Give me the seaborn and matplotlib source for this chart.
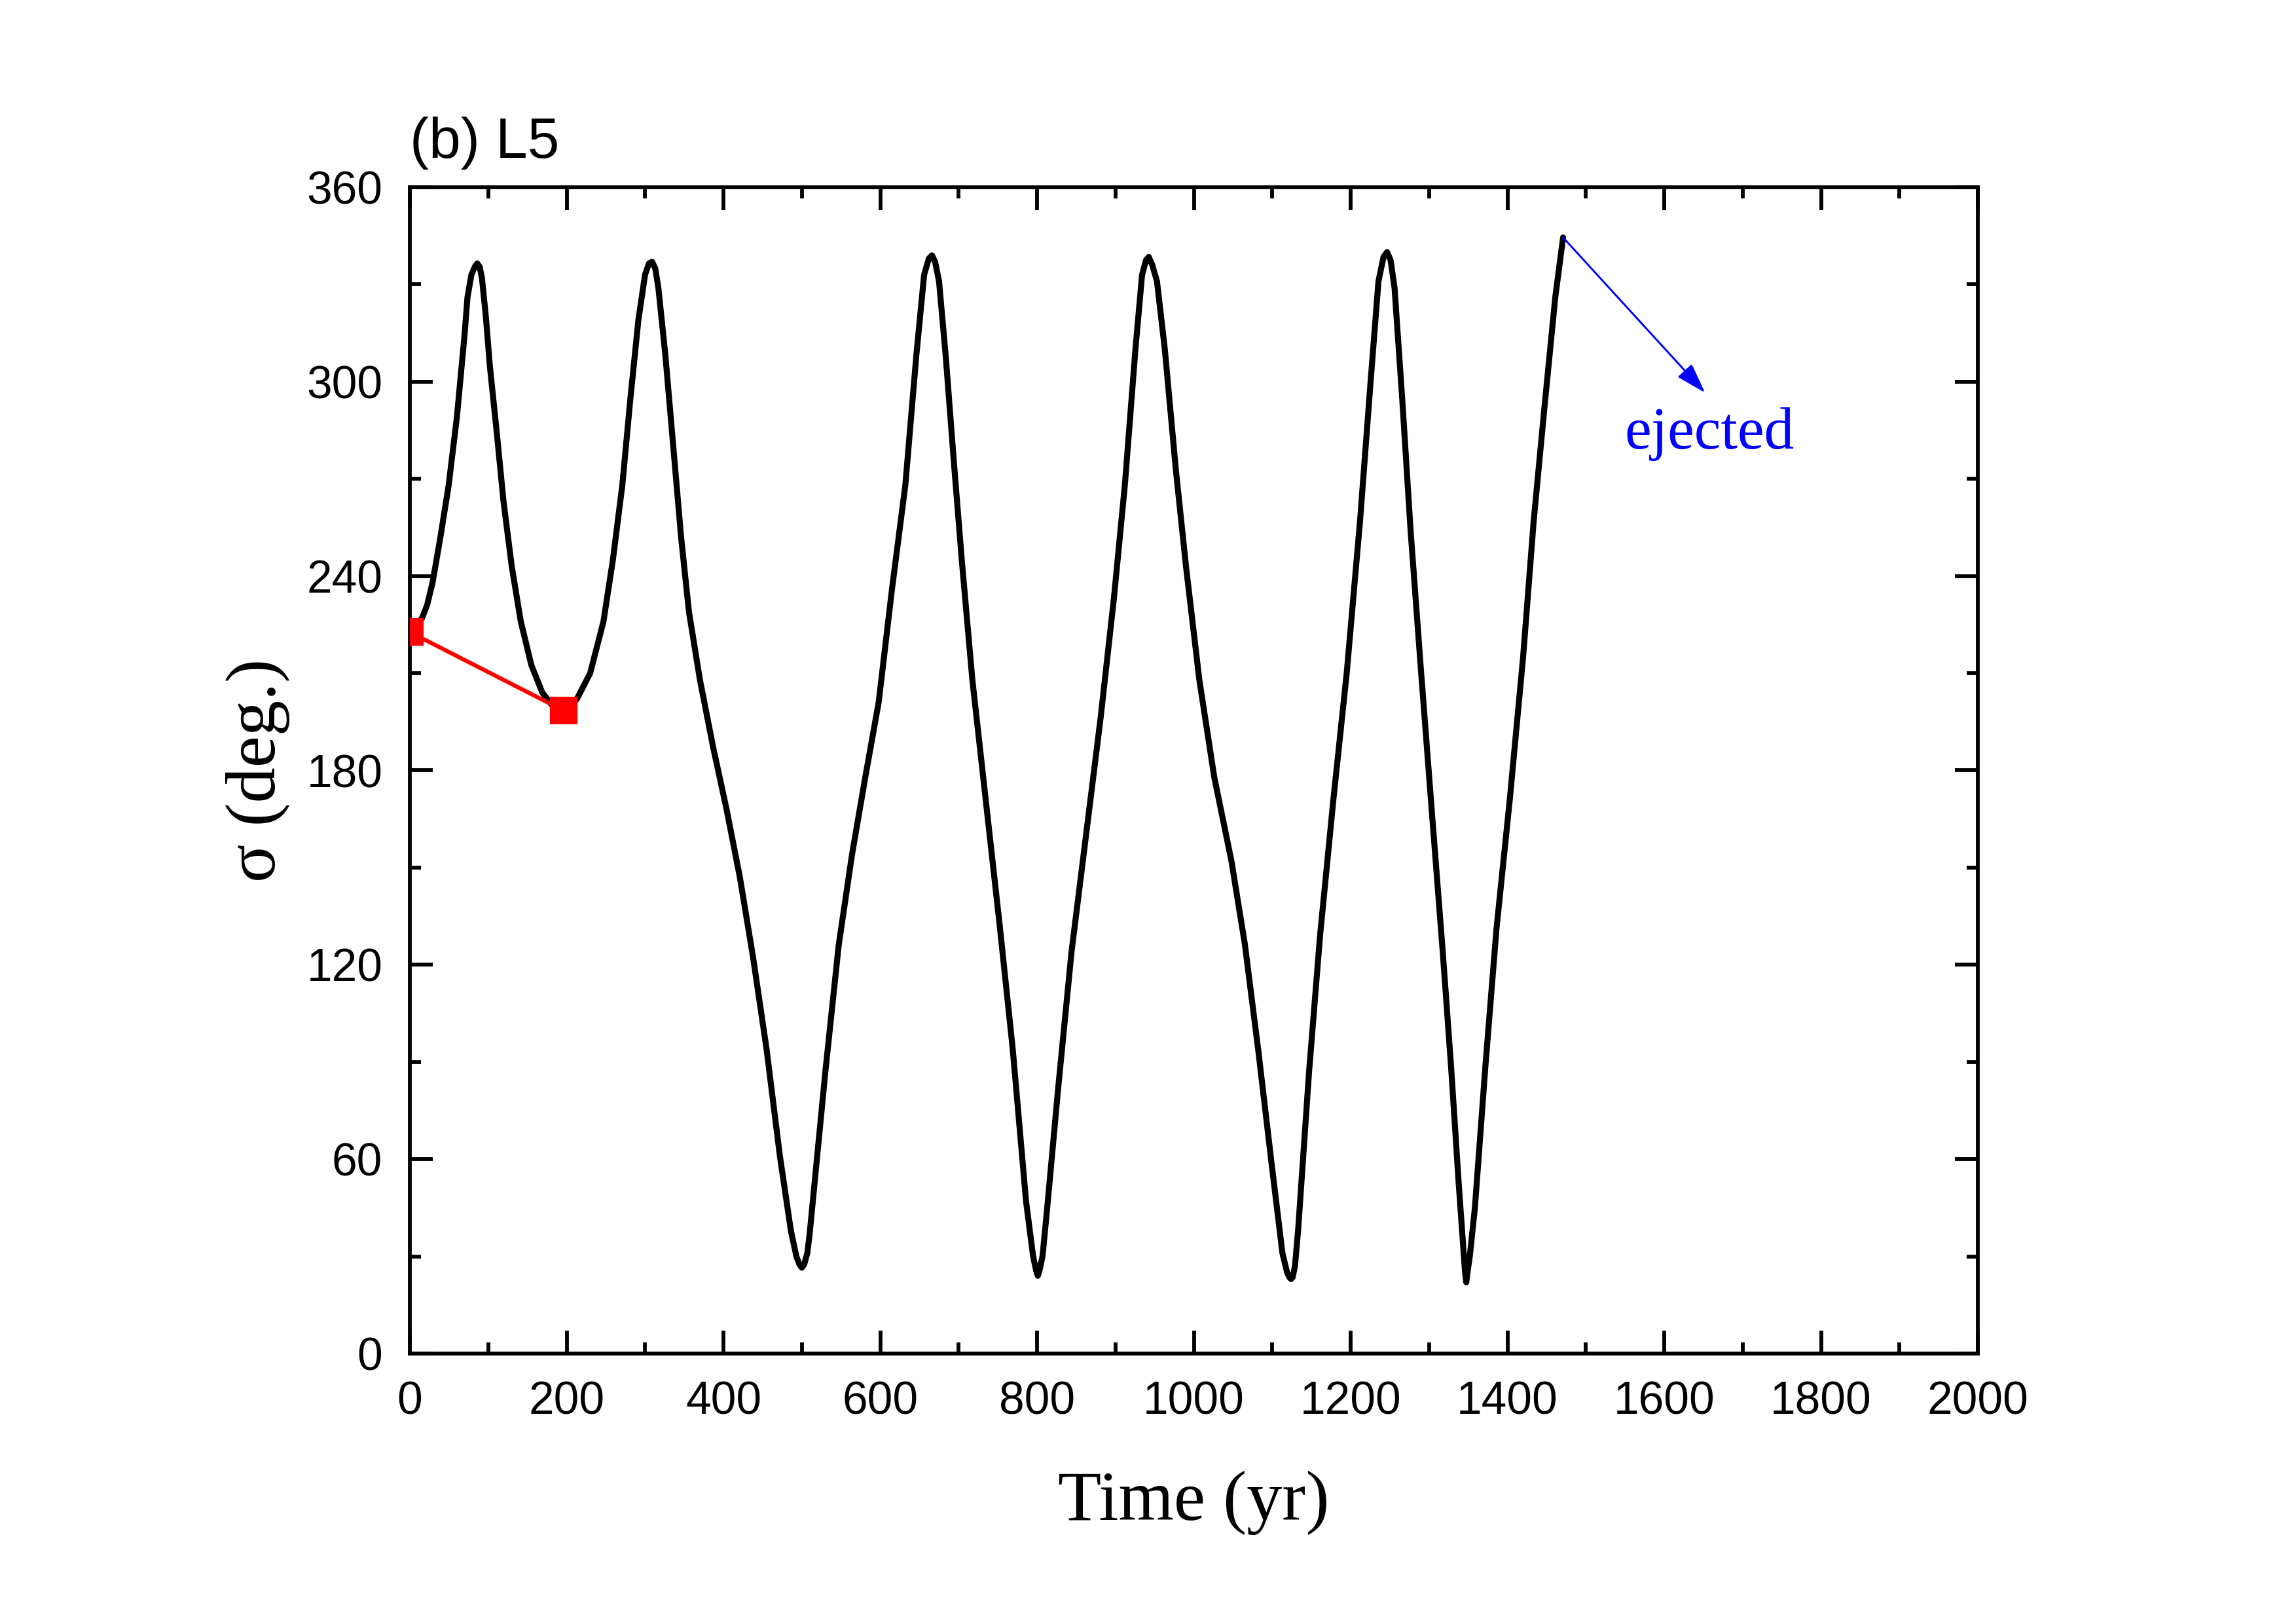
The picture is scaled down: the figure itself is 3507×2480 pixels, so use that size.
import matplotlib
matplotlib.use("Agg")
import matplotlib.pyplot as plt
from matplotlib.ticker import MultipleLocator
import seaborn as sns
import pandas as pd

# resonant angle vs time
time_yr = [0, 8, 15.5, 22, 29, 39, 49.5, 60, 70, 73.5, 78.5, 83, 86, 89, 92, 97, 102,
           111, 119.5, 130, 141.5, 155, 169, 182, 195, 205, 213, 230, 247, 259,
           271, 281, 291.5, 300, 305, 309, 313, 317, 326, 336, 346, 356, 370, 387,
           404, 421, 438, 455, 472, 486, 493, 497, 500, 503, 507, 510, 520, 530, 547, 564,
           581, 598, 615, 632, 646, 656, 662, 666, 670, 675, 683.5, 694, 704,
           717.5, 734.5, 752, 769, 786, 795, 799, 801, 803, 807, 813, 827, 844, 861, 881,
           898, 912, 925.5, 934, 939, 942.5, 947, 953, 963, 977, 990, 1007, 1026,
           1048, 1065, 1082, 1099, 1113, 1119, 1122, 1124, 1126, 1129, 1133, 1147, 1161,
           1178, 1195, 1212, 1225, 1235.5, 1242, 1246.5, 1251, 1256, 1266,
           1276.5, 1290, 1304, 1317.5, 1328, 1338, 1343, 1346, 1347.5, 1349, 1352, 1358.5,
           1372, 1386, 1403, 1420, 1433.5, 1447, 1461, 1471]
sigma_deg = [223, 225, 227, 231, 238, 252, 268, 289, 315, 326, 333, 335.5, 336.5, 335.5, 332, 320, 305,
             284, 263, 243, 226, 212.5, 204, 200, 199, 200, 202, 210, 226, 245,
             268, 294, 319, 333, 336.5, 337, 335, 329, 308, 280, 252, 229, 208, 187,
             168, 147, 122, 94, 61, 38, 30, 27.5, 26.5, 27.5, 31, 37, 62, 87, 126, 154,
             178, 201, 236, 268, 308, 333, 338, 339, 337, 331, 308, 275, 245,
             208, 171, 133, 94, 47, 30, 25.5, 24, 25.5, 30, 45, 82, 124, 157, 196,
             233, 268, 310, 333, 337.5, 338.5, 336, 331, 310, 273, 243, 208, 178,
             152, 126.5, 94, 59, 31, 25, 23.5, 23, 23.5, 27, 38, 87, 129,
             171, 210, 257, 298.5, 331, 338.5, 340, 337.5, 329, 294,
             254, 210, 166, 124, 89, 52, 35, 25, 22, 25, 30, 45,
             89, 131, 171, 215, 257, 291.5, 326, 344.5]

# the two red markers
mark_t = [0, 196]
mark_sigma = [222.7, 198.5]

# "ejected" arrow tip and label
eject_tip = (1652, 296.6)
eject_label = (1658, 279.4)

df = pd.DataFrame({"t": time_yr, "sigma": sigma_deg})

sns.set_theme(style="ticks")
plt.rcParams["font.family"] = ["Liberation Sans", "DejaVu Sans"]
plt.rcParams["text.color"] = "black"
plt.rcParams["axes.labelcolor"] = "black"
plt.rcParams["xtick.color"] = "black"
plt.rcParams["ytick.color"] = "black"

fig = plt.figure(figsize=(3507 / 300, 2480 / 300), dpi=300)
ax = fig.add_axes([626 / 3507, 1 - 2067 / 2480, (3021 - 626) / 3507, (2067 - 286) / 2480])

sns.lineplot(data=df, x="t", y="sigma", sort=False, estimator=None,
             color="black", linewidth=2.2, ax=ax)
for ln in ax.get_lines():
    ln.set_solid_joinstyle("round")
    ln.set_solid_capstyle("round")

# red segment with gaps near the symbols
ax.annotate("", xy=(mark_t[1], mark_sigma[1]), xytext=(mark_t[0], mark_sigma[0]),
            arrowprops=dict(arrowstyle="-", color="red", lw=1.5,
                            shrinkA=5.8, shrinkB=5.8))
ax.plot(mark_t, mark_sigma, linestyle="none", marker="s", ms=9,
        color="red", mec="red", zorder=5)

# ejected arrow
ax.annotate("", xy=eject_tip, xytext=(time_yr[-1], sigma_deg[-1]),
            arrowprops=dict(arrowstyle="-|>,head_length=0.95,head_width=0.3",
                            color="blue", lw=0.7, mutation_scale=10,
                            shrinkA=0, shrinkB=0))
ax.text(eject_label[0], eject_label[1], "ejected", color="blue",
        fontsize=22, family="Liberation Serif", ha="center", va="baseline")

ax.set_xlim(0, 2000)
ax.set_ylim(0, 360)
ax.xaxis.set_major_locator(MultipleLocator(200))
ax.xaxis.set_minor_locator(MultipleLocator(100))
ax.yaxis.set_major_locator(MultipleLocator(60))
ax.yaxis.set_minor_locator(MultipleLocator(30))

ax.tick_params(which="both", direction="in", top=True, right=True,
               width=1.4, colors="black")
ax.tick_params(which="major", length=8.3)
ax.tick_params(which="minor", length=4)
ax.tick_params(axis="both", which="major", pad=10, labelsize=16.7)

for s in ax.spines.values():
    s.set_linewidth(1.4)
    s.set_color("black")
    s.set_visible(True)

ax.set_xlabel("Time (yr)", fontsize=26, family="Liberation Serif", labelpad=17)
ax.set_ylabel("σ (deg.)", fontsize=26, family="Liberation Serif", labelpad=6)

ax.text(0, 1.0253, "(b) L5", transform=ax.transAxes, fontsize=21,
        ha="left", va="baseline")

fig.savefig("out.png", dpi=300, facecolor="white")
